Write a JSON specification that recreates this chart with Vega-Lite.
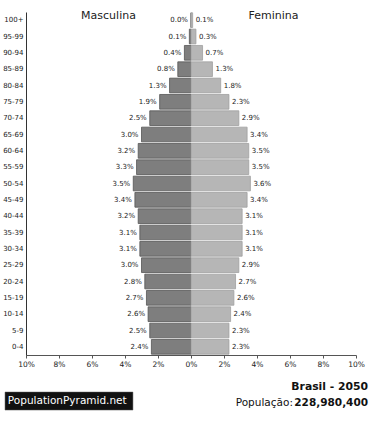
{
  "$schema": "https://vega.github.io/schema/vega-lite/v6.json",
  "autosize": "none",
  "width": 330,
  "height": 343,
  "padding": {"left": 26, "top": 12, "right": 20, "bottom": 69},
  "background": "white",
  "config": {
    "view": {"stroke": null},
    "font": "DejaVu Sans",
    "text": {"font": "DejaVu Sans"},
    "axisX": {"labelOverlap": false, "labelFlush": false, "grid": false, "tickSize": 3, "tickColor": "#555", "domainColor": "#555", "labelFontSize": 7.5, "labelColor": "#222", "labelPadding": 2, "labelFont": "DejaVu Sans", "title": null}
  },
  "datasets": {
    "pop": [
      {"age": "100+", "sex": "M", "pct": 0.0}, {"age": "100+", "sex": "F", "pct": 0.1},
      {"age": "95-99", "sex": "M", "pct": 0.1}, {"age": "95-99", "sex": "F", "pct": 0.3},
      {"age": "90-94", "sex": "M", "pct": 0.4}, {"age": "90-94", "sex": "F", "pct": 0.7},
      {"age": "85-89", "sex": "M", "pct": 0.8}, {"age": "85-89", "sex": "F", "pct": 1.3},
      {"age": "80-84", "sex": "M", "pct": 1.3}, {"age": "80-84", "sex": "F", "pct": 1.8},
      {"age": "75-79", "sex": "M", "pct": 1.9}, {"age": "75-79", "sex": "F", "pct": 2.3},
      {"age": "70-74", "sex": "M", "pct": 2.5}, {"age": "70-74", "sex": "F", "pct": 2.9},
      {"age": "65-69", "sex": "M", "pct": 3.0}, {"age": "65-69", "sex": "F", "pct": 3.4},
      {"age": "60-64", "sex": "M", "pct": 3.2}, {"age": "60-64", "sex": "F", "pct": 3.5},
      {"age": "55-59", "sex": "M", "pct": 3.3}, {"age": "55-59", "sex": "F", "pct": 3.5},
      {"age": "50-54", "sex": "M", "pct": 3.5}, {"age": "50-54", "sex": "F", "pct": 3.6},
      {"age": "45-49", "sex": "M", "pct": 3.4}, {"age": "45-49", "sex": "F", "pct": 3.4},
      {"age": "40-44", "sex": "M", "pct": 3.2}, {"age": "40-44", "sex": "F", "pct": 3.1},
      {"age": "35-39", "sex": "M", "pct": 3.1}, {"age": "35-39", "sex": "F", "pct": 3.1},
      {"age": "30-34", "sex": "M", "pct": 3.1}, {"age": "30-34", "sex": "F", "pct": 3.1},
      {"age": "25-29", "sex": "M", "pct": 3.0}, {"age": "25-29", "sex": "F", "pct": 2.9},
      {"age": "20-24", "sex": "M", "pct": 2.8}, {"age": "20-24", "sex": "F", "pct": 2.7},
      {"age": "15-19", "sex": "M", "pct": 2.7}, {"age": "15-19", "sex": "F", "pct": 2.6},
      {"age": "10-14", "sex": "M", "pct": 2.6}, {"age": "10-14", "sex": "F", "pct": 2.4},
      {"age": "5-9", "sex": "M", "pct": 2.5}, {"age": "5-9", "sex": "F", "pct": 2.3},
      {"age": "0-4", "sex": "M", "pct": 2.4}, {"age": "0-4", "sex": "F", "pct": 2.3}
    ],
    "one": [{}]
  },
  "resolve": {"scale": {"y": "independent"}},
  "layer": [
    {
      "data": {"name": "pop"},
      "transform": [
        {"calculate": "datum.sex === 'M' ? -datum.pct : datum.pct", "as": "signed"},
        {"calculate": "format(datum.pct, '.1f') + '%'", "as": "label"}
      ],
      "encoding": {
        "y": {
          "field": "age", "type": "nominal",
          "sort": ["100+","95-99","90-94","85-89","80-84","75-79","70-74","65-69","60-64","55-59","50-54","45-49","40-44","35-39","30-34","25-29","20-24","15-19","10-14","5-9","0-4"],
          "scale": {"paddingInner": 0.1, "paddingOuter": 0.05},
          "axis": {"title": null, "ticks": false, "domainColor": "#333", "domainWidth": 1, "labelFontSize": 7, "labelColor": "#222", "labelPadding": 3, "labelFont": "DejaVu Sans"}
        }
      },
      "layer": [
        {
          "mark": {"type": "bar", "strokeWidth": 0.8},
          "encoding": {
            "x": {"field": "signed", "type": "quantitative", "scale": {"domain": [-10, 10], "nice": false}, "axis": {"values": [-10,-8,-6,-4,-2,0,2,4,6,8,10], "labelExpr": "abs(datum.value) + '%'"}},
            "x2": {"datum": 0},
            "color": {"field": "sex", "type": "nominal", "scale": {"domain": ["M", "F"], "range": ["#7e7e7e", "#b6b6b6"]}, "legend": null},
            "stroke": {"field": "sex", "type": "nominal", "scale": {"domain": ["M", "F"], "range": ["#555555", "#a0a0a0"]}, "legend": null}
          }
        },
        {
          "transform": [{"filter": "datum.sex === 'M'"}],
          "mark": {"type": "text", "align": "right", "baseline": "middle", "dx": -3, "fontSize": 7, "fill": "#222"},
          "encoding": {
            "x": {"field": "signed", "type": "quantitative", "scale": {"domain": [-10, 10], "nice": false}, "axis": {"values": [-10,-8,-6,-4,-2,0,2,4,6,8,10], "labelExpr": "abs(datum.value) + '%'"}},
            "text": {"field": "label"}
          }
        },
        {
          "transform": [{"filter": "datum.sex === 'F'"}],
          "mark": {"type": "text", "align": "left", "baseline": "middle", "dx": 3, "fontSize": 7, "fill": "#222"},
          "encoding": {
            "x": {"field": "signed", "type": "quantitative", "scale": {"domain": [-10, 10], "nice": false}, "axis": {"values": [-10,-8,-6,-4,-2,0,2,4,6,8,10], "labelExpr": "abs(datum.value) + '%'"}},
            "text": {"field": "label"}
          }
        },
        {
          "data": {"name": "one"},
          "mark": {"type": "text", "align": "center", "baseline": "middle", "dy": -4, "fontSize": 11, "fill": "#222", "text": "Masculina"},
          "encoding": {
            "x": {"datum": -5, "type": "quantitative", "scale": {"domain": [-10, 10], "nice": false}, "axis": {"values": [-10,-8,-6,-4,-2,0,2,4,6,8,10], "labelExpr": "abs(datum.value) + '%'"}},
            "y": {"datum": "100+"}
          }
        },
        {
          "data": {"name": "one"},
          "mark": {"type": "text", "align": "center", "baseline": "middle", "dy": -4, "fontSize": 11, "fill": "#222", "text": "Feminina"},
          "encoding": {
            "x": {"datum": 5, "type": "quantitative", "scale": {"domain": [-10, 10], "nice": false}, "axis": {"values": [-10,-8,-6,-4,-2,0,2,4,6,8,10], "labelExpr": "abs(datum.value) + '%'"}},
            "y": {"datum": "100+"}
          }
        }
      ]
    },
    {
      "data": {"name": "one"},
      "layer": [
        {
          "mark": {"type": "rect", "fill": "#111111", "stroke": "#555", "strokeWidth": 0.5},
          "encoding": {
            "x": {"datum": -11.27, "type": "quantitative", "scale": {"domain": [-10, 10], "nice": false}, "axis": {"values": [-10,-8,-6,-4,-2,0,2,4,6,8,10], "labelExpr": "abs(datum.value) + '%'"}},
            "x2": {"datum": -3.52},
            "y": {"datum": -2.27, "type": "quantitative", "scale": {"domain": [0, 21], "nice": false, "zero": false}, "axis": null},
            "y2": {"datum": -3.37}
          }
        },
        {
          "mark": {"type": "text", "align": "left", "baseline": "middle", "fontSize": 10.5, "fill": "white", "text": "PopulationPyramid.net"},
          "encoding": {
            "x": {"datum": -11.1, "type": "quantitative", "scale": {"domain": [-10, 10], "nice": false}, "axis": {"values": [-10,-8,-6,-4,-2,0,2,4,6,8,10], "labelExpr": "abs(datum.value) + '%'"}},
            "y": {"datum": -2.82, "type": "quantitative", "scale": {"domain": [0, 21], "nice": false, "zero": false}, "axis": null}
          }
        },
        {
          "mark": {"type": "text", "align": "right", "baseline": "middle", "fontSize": 10.8, "fontWeight": "bold", "fill": "#111", "text": "Brasil - 2050"},
          "encoding": {
            "x": {"datum": 10.73, "type": "quantitative", "scale": {"domain": [-10, 10], "nice": false}, "axis": {"values": [-10,-8,-6,-4,-2,0,2,4,6,8,10], "labelExpr": "abs(datum.value) + '%'"}},
            "y": {"datum": -1.96, "type": "quantitative", "scale": {"domain": [0, 21], "nice": false, "zero": false}, "axis": null}
          }
        },
        {
          "mark": {"type": "text", "align": "right", "baseline": "middle", "fontSize": 10.5, "fill": "#111", "text": "População:"},
          "encoding": {
            "x": {"datum": 6.18, "type": "quantitative", "scale": {"domain": [-10, 10], "nice": false}, "axis": {"values": [-10,-8,-6,-4,-2,0,2,4,6,8,10], "labelExpr": "abs(datum.value) + '%'"}},
            "y": {"datum": -2.94, "type": "quantitative", "scale": {"domain": [0, 21], "nice": false, "zero": false}, "axis": null}
          }
        },
        {
          "mark": {"type": "text", "align": "right", "baseline": "middle", "fontSize": 10.5, "fontWeight": "bold", "fill": "#111", "text": "228,980,400"},
          "encoding": {
            "x": {"datum": 10.73, "type": "quantitative", "scale": {"domain": [-10, 10], "nice": false}, "axis": {"values": [-10,-8,-6,-4,-2,0,2,4,6,8,10], "labelExpr": "abs(datum.value) + '%'"}},
            "y": {"datum": -2.94, "type": "quantitative", "scale": {"domain": [0, 21], "nice": false, "zero": false}, "axis": null}
          }
        }
      ]
    }
  ]
}
